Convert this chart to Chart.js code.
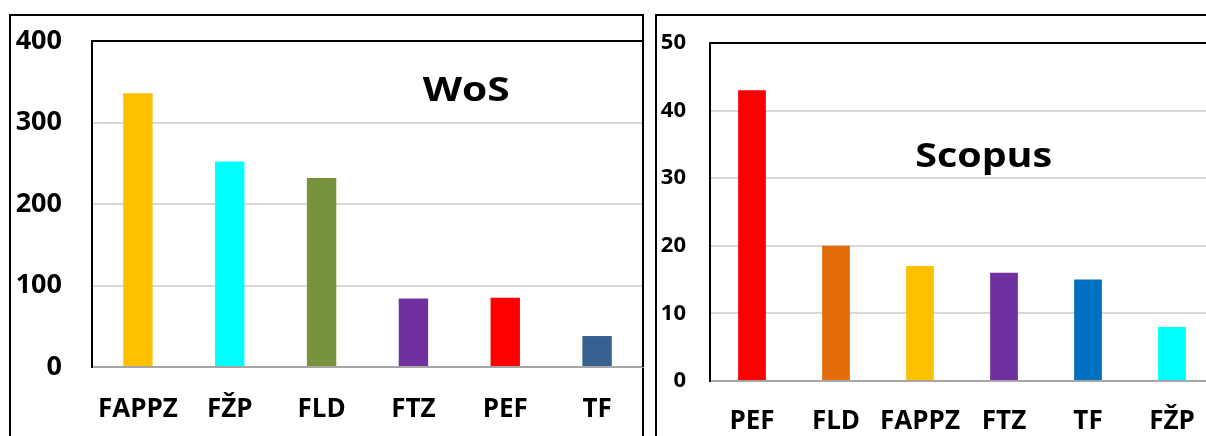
<!DOCTYPE html>
<html>
<head>
<meta charset="utf-8">
<script src="https://cdn.jsdelivr.net/npm/chart.js@4.4.1/dist/chart.umd.min.js"></script>
<style>
    html, body { margin: 0; padding: 0; background: #fff; overflow: hidden; width: 1206px; height: 436px; }
    .panel { position: absolute; box-sizing: border-box; border: 2px solid #000; height: 600px; top: 14px; }
    .wrap { position: absolute; top: 0; }
</style>
</head>
<body>
<div class="panel" style="left:9px; width:635px;"></div>
<div class="panel" style="left:655px; width:700px;"></div>
<div class="wrap" style="left:0; width:644px; height:436px;"><canvas id="wos"></canvas></div>
<div class="wrap" style="left:650px; width:600px; height:436px;"><canvas id="scopus"></canvas></div>
<script>
const wosLabels = ["FAPPZ", "FŽP", "FLD", "FTZ", "PEF", "TF"];
const wosValues = [336, 252, 232, 84, 85, 38];
const wosColors = ["#FFC000", "#00FFFF", "#77933C", "#7030A0", "#FF0000", "#35608F"];

const scopusLabels = ["PEF", "FLD", "FAPPZ", "FTZ", "TF", "FŽP"];
const scopusValues = [43, 20, 17, 16, 15, 8];
const scopusColors = ["#FF0000", "#E46C0A", "#FFC000", "#7030A0", "#0070C0", "#00FFFF"];

const FONT = "'Open Sans', Lato, sans-serif";

// black frame on top/right of the plot area + the big title inside it
const framePlugin = {
    id: "frame",
    afterDraw(chart, args, opts) {
        const {ctx, chartArea: a} = chart;
        ctx.save();
        ctx.strokeStyle = "#000";
        ctx.lineWidth = 2;
        ctx.beginPath();
        ctx.moveTo(a.left, a.bottom);
        ctx.lineTo(a.left, a.top);
        ctx.lineTo(a.right, a.top);
        ctx.lineTo(a.right, a.bottom);
        ctx.stroke();
        // title text, stretched a bit sideways like the original
        ctx.fillStyle = "#000";
        ctx.font = "bold " + opts.size + "px " + FONT;
        ctx.textAlign = "center";
        ctx.textBaseline = "alphabetic";
        const sx = opts.width / ctx.measureText(opts.text).width;
        ctx.translate(a.left + a.width * opts.fx, a.top + a.height * opts.fy);
        ctx.scale(sx, 1);
        ctx.fillText(opts.text, 0, 0);
        ctx.restore();
    }
};

function makeChart(id, labels, values, colors, cfg) {
    return new Chart(document.getElementById(id), {
        type: "bar",
        data: {
            labels: labels,
            datasets: [{
                data: values,
                backgroundColor: colors,
                barPercentage: cfg.bar,
                categoryPercentage: 1
            }]
        },
        options: {
            responsive: true,
            maintainAspectRatio: false,
            animation: false,
            layout: { padding: { top: cfg.top, right: cfg.right, left: 0, bottom: 0 } },
            plugins: {
                legend: { display: false },
                tooltip: { enabled: false },
                frame: { text: cfg.title, size: 34, width: cfg.tw, fx: cfg.fx, fy: cfg.fy }
            },
            scales: {
                x: {
                    grid: { display: false, drawTicks: false },
                    border: { display: true, color: "#A6A6A6", width: 2 },
                    ticks: {
                        color: "#000",
                        padding: cfg.xPad,
                        autoSkip: false,
                        maxRotation: 0,
                        minRotation: 0,
                        font: { family: FONT, size: 26, weight: "bold" }
                    },
                    afterFit: s => { s.height = cfg.xH; }
                },
                y: {
                    min: 0,
                    max: cfg.max,
                    grid: { color: "#D9D9D9", lineWidth: 2, drawTicks: false },
                    border: { display: true, color: "#000", width: 2 },
                    ticks: {
                        stepSize: cfg.step,
                        color: "#000",
                        padding: cfg.yPad,
                        font: { family: FONT, size: cfg.ySize, weight: "bold" }
                    },
                    // tick padding also gets added above/below the axis, drop that
                    afterFit: s => { s.width = cfg.yW; s.paddingTop = 0; s.paddingBottom = 0; }
                }
            }
        },
        plugins: [framePlugin]
    });
}

makeChart("wos", wosLabels, wosValues, wosColors, {
    max: 400, step: 100, bar: 0.32, top: 41, right: 1, xH: 69, yW: 92,
    xPad: 27, yPad: 30, ySize: 27, title: "WoS", tw: 87, fx: 0.679, fy: 0.184
});
makeChart("scopus", scopusLabels, scopusValues, scopusColors, {
    max: 50, step: 10, bar: 0.33, top: 43, right: 36, xH: 55, yW: 60,
    xPad: 25, yPad: 24, ySize: 22, title: "Scopus", tw: 137, fx: 0.543, fy: 0.367
});
</script>
</body>
</html>
